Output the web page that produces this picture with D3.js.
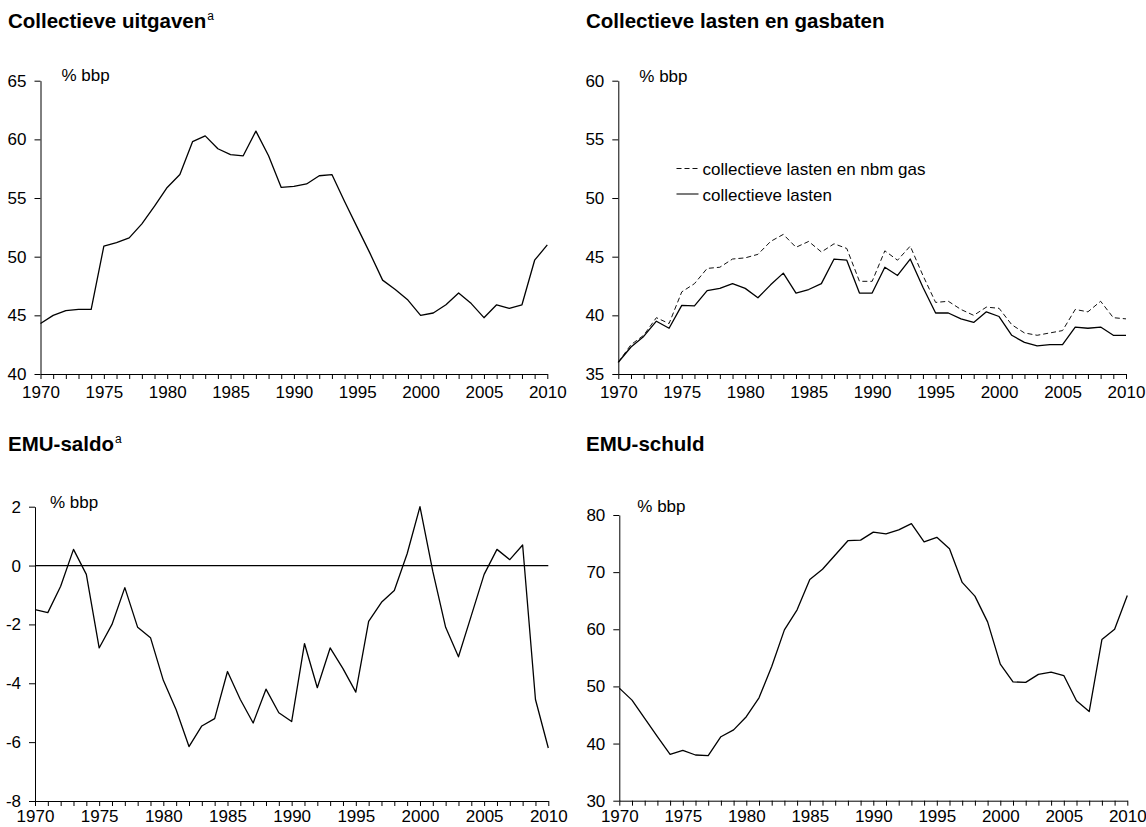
<!DOCTYPE html>
<html>
<head>
<meta charset="utf-8">
<script src="https://cdn.jsdelivr.net/npm/d3@7"></script>
<style>
  html, body { margin: 0; padding: 0; background: #fff; }
  svg { display: block; }
  text { font-family: "Liberation Sans", Arial, Helvetica, sans-serif; fill: #000; }
</style>
</head>
<body>
<svg id="chart" width="1146" height="827"></svg>
<script>
// ---------- data ----------
const years = [1970,1971,1972,1973,1974,1975,1976,1977,1978,1979,
               1980,1981,1982,1983,1984,1985,1986,1987,1988,1989,
               1990,1991,1992,1993,1994,1995,1996,1997,1998,1999,
               2000,2001,2002,2003,2004,2005,2006,2007,2008,2009,2010];
const xTickLabels = [1970,1975,1980,1985,1990,1995,2000,2005,2010];

// Collectieve uitgaven (% bbp)
const uitgaven = [44.3,45.0,45.4,45.5,45.5,50.9,51.2,51.6,52.8,54.3,
                  55.9,57.0,59.8,60.3,59.2,58.7,58.6,60.7,58.6,55.9,
                  56.0,56.2,56.9,57.0,54.7,52.5,50.3,48.0,47.2,46.3,
                  45.0,45.2,45.9,46.9,46.0,44.8,45.9,45.6,45.9,49.7,51.0];
const uitgavenTicks = [40,45,50,55,60,65];

// Collectieve lasten en nbm gas (dashed)
const lastenGas = [36.0,37.5,38.3,39.8,39.3,42.0,42.7,44.0,44.1,44.8,
                   44.9,45.2,46.3,46.9,45.8,46.3,45.4,46.1,45.7,42.9,
                   42.9,45.5,44.7,45.9,43.4,41.1,41.2,40.5,40.0,40.7,
                   40.6,39.2,38.5,38.3,38.5,38.7,40.5,40.3,41.2,39.8,39.7];
// Collectieve lasten (solid)
const lasten = [36.0,37.3,38.2,39.5,38.9,40.85,40.8,42.1,42.3,42.7,
                42.3,41.5,42.6,43.6,41.9,42.2,42.7,44.8,44.7,41.9,
                41.9,44.1,43.4,44.8,42.4,40.2,40.2,39.7,39.4,40.3,
                39.9,38.3,37.7,37.4,37.5,37.5,39.0,38.9,39.0,38.3,38.3];
const lastenTicks = [35,40,45,50,55,60];
const legendLabels = ["collectieve lasten en nbm gas", "collectieve lasten"];

// EMU-saldo (% bbp)
const emuSaldo = [-1.5,-1.6,-0.7,0.55,-0.3,-2.8,-2.0,-0.75,-2.1,-2.45,
                  -3.9,-4.9,-6.15,-5.45,-5.2,-3.6,-4.55,-5.35,-4.2,-5.0,
                  -5.3,-2.65,-4.15,-2.8,-3.5,-4.3,-1.9,-1.25,-0.85,0.4,
                  2.0,-0.2,-2.1,-3.1,-1.7,-0.3,0.55,0.2,0.7,-4.55,-6.2];
const saldoTicks = [-8,-6,-4,-2,0,2];

// EMU-schuld (% bbp)
const emuSchuld = [49.7,47.6,44.4,41.2,38.1,38.8,38.0,37.9,41.2,42.4,
                   44.7,48.0,53.5,59.9,63.4,68.7,70.5,73.0,75.5,75.6,
                   77.0,76.7,77.4,78.5,75.3,76.1,74.1,68.2,65.8,61.3,
                   53.9,50.8,50.7,52.1,52.5,51.9,47.5,45.6,58.2,60.0,65.9];
const schuldTicks = [30,40,50,60,70,80];

const unitLabel = "% bbp";

// ---------- drawing ----------
const svg = d3.select("#chart");
const FONT = 17;

function panel(opt) {
  const g = svg.append("g");
  const x = d3.scaleLinear().domain([years[0], years[years.length-1]]).range([opt.x0, opt.x1]);
  const y = d3.scaleLinear().domain([opt.ticks[0], opt.ticks[opt.ticks.length-1]]).range([opt.yBot, opt.yTop]);

  // title
  const t = g.append("text")
    .attr("x", opt.titleX).attr("y", opt.titleY)
    .style("font-size", "20.5px").style("font-weight", "bold")
    .text(opt.title);
  if (opt.sup) {
    t.append("tspan").attr("dy", -8).attr("dx", 1)
      .style("font-size", "12px").style("font-weight", "normal").text(opt.sup);
  }

  // y axis
  const ya = g.append("g").attr("transform", `translate(${opt.x0},0)`)
    .call(d3.axisLeft(y).tickValues(opt.ticks).tickFormat(d => String(d))
      .tickSize(6).tickSizeOuter(0).tickPadding(8));
  // x axis
  const xa = g.append("g").attr("transform", `translate(0,${opt.yBot})`)
    .call(d3.axisBottom(x).tickValues(years)
      .tickFormat(d => xTickLabels.includes(d) ? String(d) : "")
      .tickSize(5).tickSizeOuter(0).tickPadding(opt.xPad));
  [ya, xa].forEach(a => {
    a.selectAll("text").style("font-size", FONT + "px").style("font-family", '"Liberation Sans", Arial, Helvetica, sans-serif').attr("fill", "#000");
    a.selectAll("line, path").attr("stroke", "#000");
  });

  // unit label
  g.append("text").attr("x", opt.x0 + opt.unitDx).attr("y", y(opt.ticks[opt.ticks.length-1]) + opt.unitDy)
    .style("font-size", FONT + "px").text(unitLabel);

  if (opt.zero) {
    g.append("line").attr("x1", opt.x0).attr("x2", opt.x1)
      .attr("y1", y(0)).attr("y2", y(0)).attr("stroke", "#000").attr("stroke-width", 1.2);
  }

  const line = d3.line().x((d, i) => x(years[i])).y(d => y(d));
  opt.series.forEach(s => {
    g.append("path").datum(s.values)
      .attr("d", line).attr("fill", "none")
      .attr("stroke", s.color || "#000")
      .attr("stroke-width", s.width || 1.3)
      .attr("stroke-dasharray", s.dash || null)
      .attr("stroke-linejoin", "round");
  });

  if (opt.legend) {
    opt.legend.forEach((L, i) => {
      const ly = opt.legendY + i * 25.5;
      g.append("line").attr("x1", opt.legendX).attr("x2", opt.legendX + 22)
        .attr("y1", ly).attr("y2", ly)
        .attr("stroke", L.color || "#000").attr("stroke-width", L.width || 1.3)
        .attr("stroke-dasharray", L.dash || null);
      g.append("text").attr("x", opt.legendX + 26).attr("y", ly + 6.5)
        .style("font-size", FONT + "px").text(L.label);
    });
  }
  return {x, y};
}

panel({
  title: "Collectieve uitgaven", sup: "a", titleX: 8, titleY: 28,
  x0: 40.5, x1: 547.3, yTop: 80.7, yBot: 374, xPad: 7,
  ticks: uitgavenTicks, unitDx: 21, unitDy: 0,
  series: [{values: uitgaven}]
});

panel({
  title: "Collectieve lasten en gasbaten", titleX: 586, titleY: 28,
  x0: 618.3, x1: 1126, yTop: 80.7, yBot: 374, xPad: 7,
  ticks: lastenTicks, unitDx: 21, unitDy: 1.5,
  series: [
    {values: lastenGas, dash: "5,3", width: 1, color: "#111"},
    {values: lasten}
  ],
  legendX: 676.5, legendY: 168.5,
  legend: [
    {label: legendLabels[0], dash: "5,3", width: 1, color: "#111"},
    {label: legendLabels[1], color: "#333"}
  ]
});

panel({
  title: "EMU-saldo", sup: "a", titleX: 8, titleY: 451,
  x0: 35, x1: 548.3, yTop: 506.7, yBot: 801, xPad: 4,
  ticks: saldoTicks, unitDx: 15, unitDy: 1, zero: true,
  series: [{values: emuSaldo}]
});

panel({
  title: "EMU-schuld", titleX: 586, titleY: 451,
  x0: 619.3, x1: 1127.3, yTop: 515, yBot: 800.7, xPad: 4,
  ticks: schuldTicks, unitDx: 18, unitDy: -3,
  series: [{values: emuSchuld}]
});
</script>
</body>
</html>
